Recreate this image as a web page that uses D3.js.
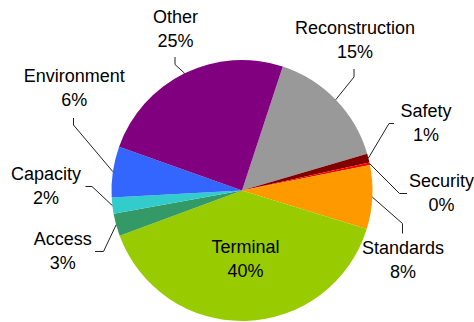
<!DOCTYPE html>
<html>
<head>
<meta charset="utf-8">
<script src="https://cdn.jsdelivr.net/npm/d3@7"></script>
<style>
  html, body { margin: 0; padding: 0; background: #ffffff; }
  svg { display: block; }
  text { font-family: "Liberation Sans", Arial, sans-serif; font-size: 18px; fill: #000; }
</style>
</head>
<body>
<svg id="chart" width="474" height="322"></svg>
<script>
// Budget share by category (percent)
const categories = ["Reconstruction", "Safety", "Security", "Standards", "Terminal",
                    "Access", "Capacity", "Environment", "Other"];
const values = [15.4, 1.1, 0.3, 7.9, 39.6, 2.8, 2.0, 6.3, 24.6];
const colors = ["#999999", "#800000", "#ff0000", "#ff9900", "#99cc00",
                "#339966", "#33cccc", "#3366ff", "#800080"];

// Label placement and leader-line bends for each category
const labelLayout = {
  Other:          { x: 175.5, y: 23,  elbow: [175, 64.5],   end: [175, 57] },
  Reconstruction: { x: 355,   y: 34,  elbow: [354, 77],     end: [354, 69] },
  Safety:         { x: 426,   y: 117, elbow: [389, 123.5],  end: [394, 123.5] },
  Security:       { x: 441.5, y: 187, elbow: [399.5, 193.5], end: [407, 193.5] },
  Standards:      { x: 403,   y: 254, elbow: [402.5, 223.5], end: [402.5, 233.5] },
  Terminal:       { x: 245.5, y: 253 },
  Access:         { x: 62.8,  y: 245, elbow: [103.5, 251.5], end: [95, 251.5] },
  Capacity:       { x: 46,    y: 180, elbow: [92, 186.5],   end: [85.5, 186.5] },
  Environment:    { x: 74.3,  y: 82,  elbow: [73.5, 125],   end: [73.5, 118] }
};

const cx = 242, cy = 190.5, radius = 130.5;
const startDeg = 18.2;

const data = categories.map((c, i) => ({ category: c, value: values[i], color: colors[i] }));
const total = d3.sum(values);

const pie = d3.pie()
  .sort(null)
  .value(d => d.value)
  .startAngle(startDeg * Math.PI / 180)
  .endAngle(startDeg * Math.PI / 180 + 2 * Math.PI);

const arc = d3.arc().innerRadius(0).outerRadius(radius);
const arcs = pie(data);

const svg = d3.select("#chart");
const g = svg.append("g").attr("transform", `translate(${cx},${cy})`);

g.selectAll("path.slice")
  .data(arcs)
  .join("path")
  .attr("class", "slice")
  .attr("d", arc)
  .attr("fill", d => d.data.color);

// Leader lines from the rim at each slice's mid-angle
const rimPoint = d => {
  const a = (d.startAngle + d.endAngle) / 2;
  return [cx + radius * Math.sin(a), cy - radius * Math.cos(a)];
};

svg.selectAll("path.leader")
  .data(arcs.filter(d => labelLayout[d.data.category].elbow))
  .join("path")
  .attr("class", "leader")
  .attr("fill", "none")
  .attr("stroke", "#222")
  .attr("stroke-width", 1)
  .attr("d", d => {
    const L = labelLayout[d.data.category];
    return d3.line()([rimPoint(d), L.elbow, L.end]);
  });

// Two-line labels: name and rounded share
const labels = svg.selectAll("text.label")
  .data(arcs)
  .join("text")
  .attr("class", "label")
  .attr("text-anchor", "middle")
  .attr("x", d => labelLayout[d.data.category].x)
  .attr("y", d => labelLayout[d.data.category].y);

labels.append("tspan")
  .attr("x", d => labelLayout[d.data.category].x)
  .text(d => d.data.category);

labels.append("tspan")
  .attr("x", d => labelLayout[d.data.category].x)
  .attr("dy", 24)
  .text(d => Math.round(d.data.value / total * 100) + "%");
</script>
</body>
</html>
